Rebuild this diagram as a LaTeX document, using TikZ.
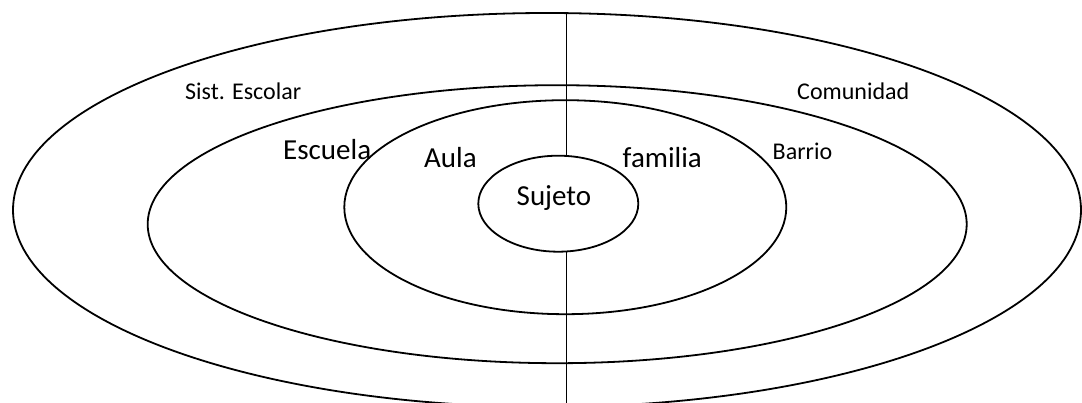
\documentclass[tikz,border=0pt]{standalone}
\usepackage{fontspec}
\setmainfont{Carlito}
\usetikzlibrary{shapes.geometric}
\begin{document}
\begin{tikzpicture}[x=1pt,y=-1pt,
  ring/.style={draw, ellipse, line width=1.8pt, inner sep=0pt, outer sep=0pt},
  small/.style={anchor=base west, inner sep=0pt, font=\fontsize{24}{28}\selectfont},
  large/.style={anchor=base west, inner sep=0pt, font=\fontsize{29}{34}\selectfont},
  divider/.style={line width=1.6pt}]
\useasboundingbox (0,0) rectangle (1082,403);
\node[ring, minimum width=1068pt, minimum height=394pt] (outer) at (547,210) {};
\node[ring, minimum width=819pt, minimum height=278pt] (ring2) at (557.2,224.2) {};
\node[ring, minimum width=442pt, minimum height=214pt] (ring3) at (565.3,207.2) {};
\node[ring, minimum width=160pt, minimum height=96pt] (sujeto) at (558.3,203.7) {};
\coordinate (ltop) at (566.5,13);
\coordinate (lbot) at (566.5,403);
\draw[divider] (ltop) -- (ltop |- sujeto.north);
\draw[divider] (lbot |- sujeto.south) -- (lbot);
\node[small] (sist) at (185,100) {Sist. Escolar};
\node[small] (comunidad) at (797,100) {Comunidad};
\node[large] (escuela) at (283,160) {Escuela};
\node[large] (aula) at (424,167.5) {Aula};
\node[large] (familia) at (622.5,167.5) {familia};
\node[small] (barrio) at (772.5,159.5) {Barrio};
\node[large] (sujetotxt) at (516.5,206) {Sujeto};
\end{tikzpicture}
\end{document}
